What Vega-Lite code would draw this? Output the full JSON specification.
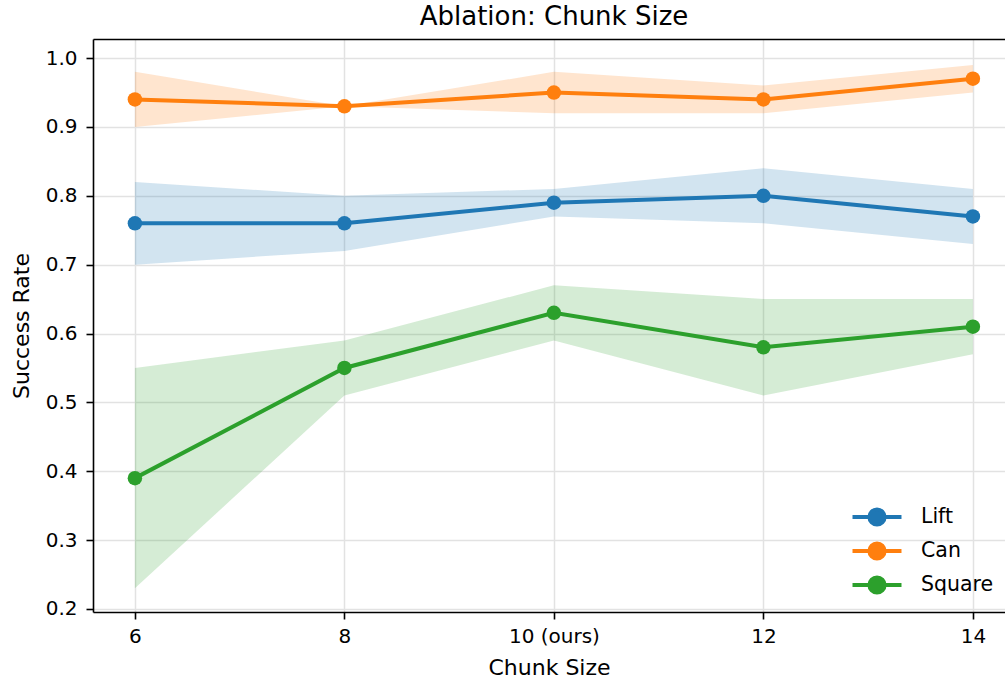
{
  "$schema": "https://vega.github.io/schema/vega-lite/v6.json",
  "autosize": {"type": "none"},
  "padding": {"left": 93, "top": 39, "right": 0, "bottom": 69},
  "width": 912,
  "height": 573,
  "background": "white",
  "title": {"text": "Ablation: Chunk Size", "font": "DejaVu Sans", "fontSize": 26, "fontWeight": "normal", "color": "black", "anchor": "middle", "dx": 5, "offset": 9},
  "config": {
    "view": {"stroke": null},
    "font": "DejaVu Sans",
    "axis": {"labelFont": "DejaVu Sans", "titleFont": "DejaVu Sans", "labelColor": "black", "titleColor": "black", "titleFontWeight": "normal", "domainColor": "black", "tickColor": "black", "gridColor": "#e2e2e2", "gridWidth": 1.5, "domainWidth": 1.6, "tickWidth": 1.6}
  },
  "data": {"values": [
    {"chunk": 6, "task": "Lift", "mean": 0.76, "lo": 0.70, "hi": 0.82},
    {"chunk": 8, "task": "Lift", "mean": 0.76, "lo": 0.72, "hi": 0.80},
    {"chunk": 10, "task": "Lift", "mean": 0.79, "lo": 0.77, "hi": 0.81},
    {"chunk": 12, "task": "Lift", "mean": 0.80, "lo": 0.76, "hi": 0.84},
    {"chunk": 14, "task": "Lift", "mean": 0.77, "lo": 0.73, "hi": 0.81},
    {"chunk": 6, "task": "Can", "mean": 0.94, "lo": 0.90, "hi": 0.98},
    {"chunk": 8, "task": "Can", "mean": 0.93, "lo": 0.93, "hi": 0.93},
    {"chunk": 10, "task": "Can", "mean": 0.95, "lo": 0.92, "hi": 0.98},
    {"chunk": 12, "task": "Can", "mean": 0.94, "lo": 0.92, "hi": 0.96},
    {"chunk": 14, "task": "Can", "mean": 0.97, "lo": 0.95, "hi": 0.99},
    {"chunk": 6, "task": "Square", "mean": 0.39, "lo": 0.23, "hi": 0.55},
    {"chunk": 8, "task": "Square", "mean": 0.55, "lo": 0.51, "hi": 0.59},
    {"chunk": 10, "task": "Square", "mean": 0.63, "lo": 0.59, "hi": 0.67},
    {"chunk": 12, "task": "Square", "mean": 0.58, "lo": 0.51, "hi": 0.65},
    {"chunk": 14, "task": "Square", "mean": 0.61, "lo": 0.57, "hi": 0.65}
  ]},
  "encoding": {
    "color": {
      "field": "task", "type": "nominal",
      "scale": {"domain": ["Lift", "Can", "Square"], "range": ["#1f77b4", "#ff7f0e", "#2ca02c"]},
      "legend": {
        "title": null, "orient": "none", "legendX": 766.5, "legendY": 460.5, "padding": 0,
        "symbolType": "M-1.58,0L1.58,0M-0.49,0A0.49,0.49,0,1,0,0.49,0A0.49,0.49,0,1,0,-0.49,0Z",
        "symbolSize": 961, "symbolStrokeWidth": 4, "symbolOpacity": 1,
        "labelFont": "DejaVu Sans", "labelFontSize": 20.5, "labelColor": "black", "labelOffset": 26.5, "rowPadding": 0,
        "encode": {"symbols": {"update": {"fill": {"field": "value", "scale": "color"}, "stroke": {"field": "value", "scale": "color"}, "opacity": {"value": 1}, "fillOpacity": {"value": 1}, "strokeOpacity": {"value": 1}}}}
      }
    }
  },
  "layer": [
    {
      "mark": {"type": "area", "opacity": 0.2},
      "encoding": {
        "x": {"field": "chunk", "type": "quantitative", "scale": {"domain": [5.6, 14.3065], "nice": false, "zero": false},
              "axis": {"values": [6, 8, 10, 12, 14], "labelExpr": "datum.value == 10 ? '10 (ours)' : datum.label", "title": "Chunk Size", "labelFontSize": 20, "titleFontSize": 22, "tickSize": 7, "labelPadding": 7, "titlePadding": 11, "grid": true}},
        "y": {"field": "lo", "type": "quantitative", "scale": {"domain": [0.1956, 1.0277], "nice": false, "zero": false},
              "axis": {"values": [0.2, 0.3, 0.4, 0.5, 0.6, 0.7, 0.8, 0.9, 1.0], "format": ".1f", "title": "Success Rate", "labelFontSize": 20, "titleFontSize": 22, "tickSize": 7, "labelPadding": 9, "titlePadding": 12, "grid": true}},
        "y2": {"field": "hi"}
      }
    },
    {
      "mark": {"type": "line", "strokeWidth": 4},
      "encoding": {
        "x": {"field": "chunk", "type": "quantitative", "axis": {"orient": "top", "labels": false, "ticks": false, "grid": false, "title": null, "domain": true}},
        "y": {"field": "mean", "type": "quantitative"}
      }
    },
    {
      "mark": {"type": "point", "filled": true, "opacity": 1, "size": 210, "shape": "circle"},
      "encoding": {
        "x": {"field": "chunk", "type": "quantitative", "axis": null},
        "y": {"field": "mean", "type": "quantitative"}
      }
    }
  ],
  "resolve": {"axis": {"x": "independent"}}
}
